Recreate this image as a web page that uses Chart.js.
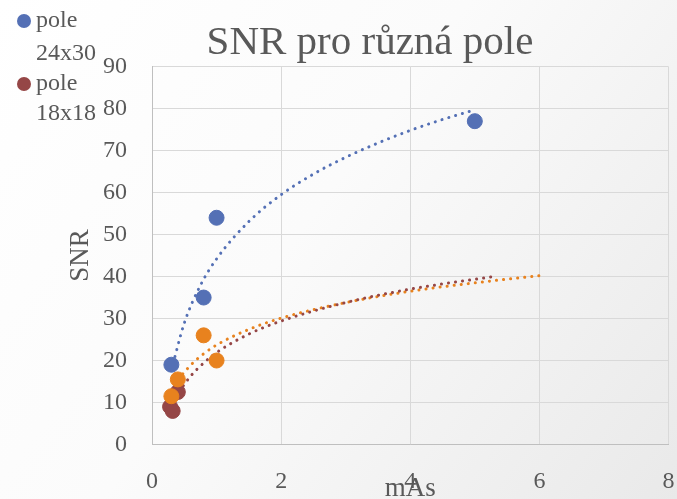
<!DOCTYPE html>
<html>
<head>
<meta charset="utf-8">
<script src="https://cdn.jsdelivr.net/npm/chart.js@4.4.1/dist/chart.umd.min.js"></script>
<style>
  html, body { margin: 0; padding: 0; background: #fff; }
  #wrap { width: 677px; height: 499px; position: relative; }
</style>
</head>
<body>
<div id="wrap"><canvas id="snrChart"></canvas></div>
<script>
// data
const titleText = 'SNR pro různá pole';
const seriesNames = ['pole 24x30', 'pole 18x18', ''];
const xTicks = [0, 2, 4, 6, 8];
const yTicks = [0, 10, 20, 30, 40, 50, 60, 70, 80, 90];

const blueX = [0.3, 0.8, 1, 5];
const blueY = [19, 35, 54, 77];
const redX = [0.28, 0.32, 0.4];
const redY = [9, 8, 12.5];
const orangeX = [0.3, 0.4, 0.8, 1];
const orangeY = [11.5, 15.5, 26, 20];

// dotted trend lines
const blueTrendX = [0.3, 0.5, 0.75, 1, 1.5, 2, 2.5, 3, 3.5, 4, 4.5, 5];
const blueTrendY = [17.7, 28.9, 37.9, 44.2, 53.1, 59.5, 64.4, 68.4, 71.8, 74.8, 77.4, 79.7];
const redTrendX = [0.28, 0.4, 0.6, 0.8, 1, 1.5, 2, 3, 4, 5.3];
const redTrendY = [8.0, 11.9, 16.3, 19.4, 21.9, 26.3, 29.4, 33.8, 37.0, 40.0];
const orangeTrendX = [0.3, 0.4, 0.6, 0.8, 1, 1.5, 2, 3, 4, 5, 6];
const orangeTrendY = [12.5, 15.2, 18.9, 21.6, 23.7, 27.4, 30.1, 33.8, 36.5, 38.5, 40.2];

const BLUE = '#5470b5';
const RED = '#954646';
const ORANGE = '#e8821e';
const TEXT = '#595959';
const FONT = '"Liberation Serif", "DejaVu Serif", serif';

function pts(xs, ys) {
    return xs.map((x, i) => ({ x: x, y: ys[i] }));
}

function markers(label, xs, ys, color, order) {
    return {
        type: 'scatter',
        label: label,
        data: pts(xs, ys),
        backgroundColor: color,
        borderColor: color,
        pointRadius: 7.5,
        pointHoverRadius: 7.5,
        order: order
    };
}

function trend(xs, ys, color) {
    return {
        type: 'line',
        label: '',
        data: pts(xs, ys),
        borderColor: color,
        borderWidth: 3,
        borderDash: [0.1, 7],
        borderCapStyle: 'round',
        pointRadius: 0,
        fill: false,
        cubicInterpolationMode: 'monotone',
        order: 10
    };
}

// background gradient, title and wrapped legend
const decor = {
    id: 'decor',
    beforeDraw(chart) {
        const ctx = chart.ctx;
        const g = ctx.createLinearGradient(0, 0, chart.width, chart.height);
        g.addColorStop(0, '#ffffff');
        g.addColorStop(0.45, '#fbfbfb');
        g.addColorStop(1, '#e9e9e9');
        ctx.save();
        ctx.fillStyle = g;
        ctx.fillRect(0, 0, chart.width, chart.height);
        ctx.restore();
    },
    afterDraw(chart) {
        const ctx = chart.ctx;
        ctx.save();
        ctx.fillStyle = TEXT;
        ctx.textBaseline = 'middle';
        ctx.textAlign = 'center';
        ctx.font = '41px ' + FONT;
        ctx.fillText(titleText, 370, 43);

        ctx.font = '24px ' + FONT;
        ctx.textAlign = 'left';
        const rows = [[21, 54], [84, 114]];
        [0, 1].forEach(i => {
            const ds = chart.data.datasets[i];
            const words = ds.label.split(' ');
            ctx.fillStyle = ds.backgroundColor;
            ctx.beginPath();
            ctx.arc(24, rows[i][0], 7, 0, Math.PI * 2);
            ctx.fill();
            ctx.fillStyle = TEXT;
            ctx.fillText(words[0], 36, rows[i][0]);
            ctx.fillText(words[1], 36, rows[i][1]);
        });
        ctx.restore();
    }
};

new Chart(document.getElementById('snrChart'), {
    type: 'scatter',
    data: {
        datasets: [
            markers(seriesNames[0], blueX, blueY, BLUE, 3),
            markers(seriesNames[1], redX, redY, RED, 2),
            markers(seriesNames[2], orangeX, orangeY, ORANGE, 1),
            trend(blueTrendX, blueTrendY, BLUE),
            trend(redTrendX, redTrendY, RED),
            trend(orangeTrendX, orangeTrendY, ORANGE)
        ]
    },
    options: {
        responsive: true,
        maintainAspectRatio: false,
        animation: false,
        events: [],
        layout: { padding: { top: 66.6, right: 5, bottom: 0, left: 0 } },
        plugins: {
            legend: { display: false },
            title: { display: false },
            tooltip: { enabled: false }
        },
        scales: {
            x: {
                type: 'linear',
                min: 0,
                max: 8,
                afterBuildTicks: s => { s.ticks = xTicks.map(v => ({ value: v })); },
                afterFit: s => { s.height = 54.5; },
                grid: { color: '#d9d9d9', lineWidth: 1, drawTicks: true, tickLength: 22, tickColor: 'rgba(0,0,0,0)' },
                border: { color: '#bfbfbf', width: 1 },
                ticks: { color: TEXT, padding: 1, maxRotation: 0, font: { family: FONT, size: 24 } },
                title: {
                    display: true,
                    text: 'mAs',
                    color: TEXT,
                    font: { family: FONT, size: 27, lineHeight: 1 },
                    padding: { top: 0, bottom: -3 }
                }
            },
            y: {
                type: 'linear',
                min: 0,
                max: 90,
                afterBuildTicks: s => { s.ticks = yTicks.map(v => ({ value: v })); },
                afterFit: s => { s.width = 152; },
                grid: { color: '#d9d9d9', lineWidth: 1, drawTicks: true, tickLength: 24, tickColor: 'rgba(0,0,0,0)' },
                border: { color: '#bfbfbf', width: 1 },
                ticks: { color: TEXT, padding: 1, font: { family: FONT, size: 24 } },
                title: {
                    display: true,
                    text: 'SNR',
                    color: TEXT,
                    font: { family: FONT, size: 27, lineHeight: 1 },
                    padding: { top: 67, bottom: 0 }
                }
            }
        }
    },
    plugins: [decor]
});
</script>
</body>
</html>
